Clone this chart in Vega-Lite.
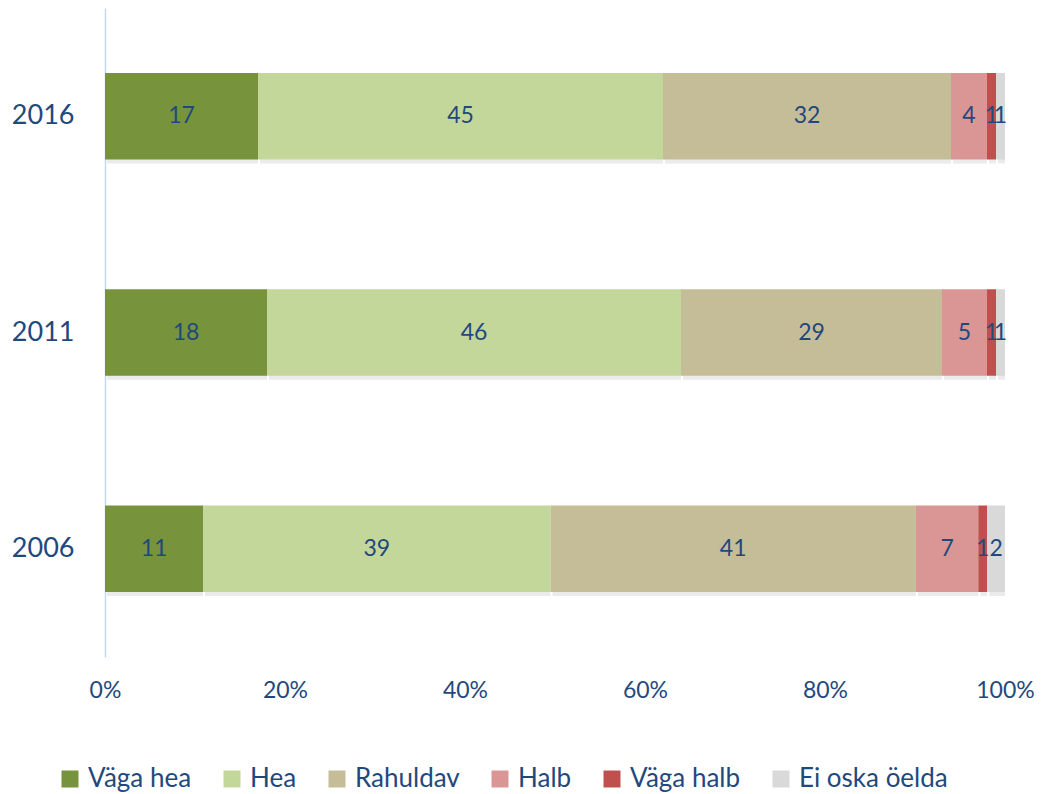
{
  "$schema": "https://vega.github.io/schema/vega-lite/v6.json",
  "width": 900,
  "height": 649,
  "autosize": {"type": "none"},
  "padding": {"left": 105, "top": 8, "right": 38, "bottom": 137},
  "background": "white",
  "config": {
    "view": {"stroke": null},
    "font": "Lato",
    "text": {"font": "Lato"}
  },
  "data": {
    "values": [
      {"year": "2016", "cat": "Väga hea", "order": 1, "value": 17},
      {"year": "2016", "cat": "Hea", "order": 2, "value": 45},
      {"year": "2016", "cat": "Rahuldav", "order": 3, "value": 32},
      {"year": "2016", "cat": "Halb", "order": 4, "value": 4},
      {"year": "2016", "cat": "Väga halb", "order": 5, "value": 1},
      {"year": "2016", "cat": "Ei oska öelda", "order": 6, "value": 1},
      {"year": "2011", "cat": "Väga hea", "order": 1, "value": 18},
      {"year": "2011", "cat": "Hea", "order": 2, "value": 46},
      {"year": "2011", "cat": "Rahuldav", "order": 3, "value": 29},
      {"year": "2011", "cat": "Halb", "order": 4, "value": 5},
      {"year": "2011", "cat": "Väga halb", "order": 5, "value": 1},
      {"year": "2011", "cat": "Ei oska öelda", "order": 6, "value": 1},
      {"year": "2006", "cat": "Väga hea", "order": 1, "value": 11},
      {"year": "2006", "cat": "Hea", "order": 2, "value": 39},
      {"year": "2006", "cat": "Rahuldav", "order": 3, "value": 41},
      {"year": "2006", "cat": "Halb", "order": 4, "value": 7},
      {"year": "2006", "cat": "Väga halb", "order": 5, "value": 1},
      {"year": "2006", "cat": "Ei oska öelda", "order": 6, "value": 2}
    ]
  },
  "transform": [
    {"stack": "value", "groupby": ["year"], "sort": [{"field": "order", "order": "ascending"}], "as": ["v0", "v1"], "offset": "normalize"},
    {"calculate": "(datum.v0 + datum.v1) / 2", "as": "mid"}
  ],
  "encoding": {
    "y": {
      "field": "year",
      "type": "nominal",
      "sort": "descending",
      "scale": {"paddingInner": 0.6, "paddingOuter": 0.3},
      "axis": {
        "title": null,
        "ticks": false,
        "labelFontSize": 27,
        "labelColor": "#1F497D",
        "labelPadding": 31,
        "domainColor": "#C6D9F1",
        "domainWidth": 1.5,
        "labelFont": "Lato"
      }
    }
  },
  "layer": [
    {
      "mark": {"type": "bar", "color": "#000000", "opacity": 0.08, "xOffset": 2, "yOffset": 4},
      "encoding": {
        "x": {"field": "v0", "type": "quantitative", "scale": {"domain": [0, 1]}},
        "x2": {"field": "v1"}
      }
    },
    {
      "mark": {"type": "bar"},
      "encoding": {
        "x": {
          "field": "v0",
          "type": "quantitative",
          "scale": {"domain": [0, 1], "nice": false},
          "axis": {
            "title": null,
            "format": ".0%",
            "values": [0, 0.2, 0.4, 0.6, 0.8, 1],
            "grid": false,
            "ticks": false,
            "domain": false,
            "labelFlush": false,
            "labelFontSize": 23,
            "labelColor": "#1F497D",
            "labelPadding": 22,
            "labelFont": "Lato"
          }
        },
        "x2": {"field": "v1"},
        "color": {
          "field": "cat",
          "type": "nominal",
          "sort": ["Väga hea", "Hea", "Rahuldav", "Halb", "Väga halb", "Ei oska öelda"],
          "scale": {
            "domain": ["Väga hea", "Hea", "Rahuldav", "Halb", "Väga halb", "Ei oska öelda"],
            "range": ["#77933C", "#C4D79B", "#C4BD97", "#D99694", "#C0504D", "#D9D9D9"]
          },
          "legend": {
            "title": null,
            "orient": "none",
            "direction": "horizontal",
            "columns": 6,
            "legendX": -48,
            "legendY": 758,
            "symbolType": "square",
            "symbolSize": 289,
            "symbolStrokeWidth": 0,
            "symbolOpacity": 1,
            "labelFontSize": 26,
            "labelColor": "#1F497D",
            "labelFont": "Lato",
            "labelOffset": 5,
            "columnPadding": 27,
            "labelLimit": 300
          }
        }
      }
    },
    {
      "mark": {"type": "text", "fontSize": 23, "color": "#1F497D", "align": "center", "baseline": "middle", "font": "Lato"},
      "encoding": {
        "x": {"field": "mid", "type": "quantitative"},
        "text": {"field": "value", "type": "quantitative"}
      }
    }
  ]
}
